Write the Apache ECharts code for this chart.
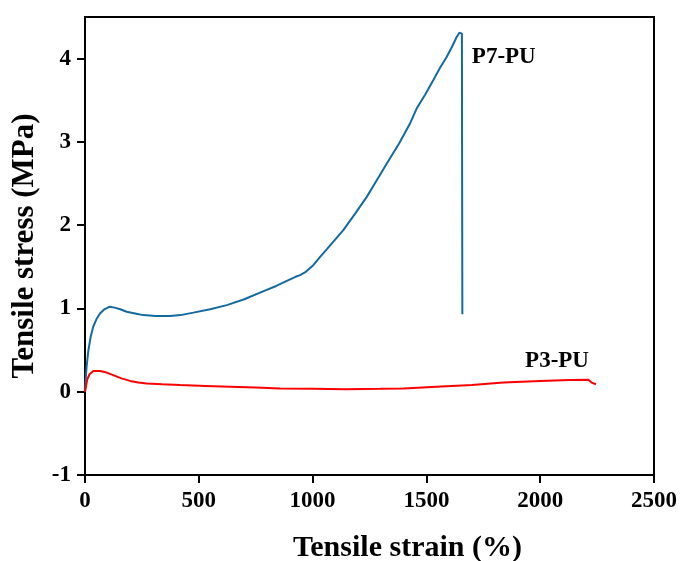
<!DOCTYPE html>
<html>
<head>
<meta charset="utf-8">
<script src="https://cdn.jsdelivr.net/npm/echarts@6/dist/echarts.min.js"></script>
<style>
  html, body { margin: 0; padding: 0; background: #fff; }
  #chart { width: 681px; height: 561px; }
</style>
</head>
<body>
<div id="chart"></div>
<script>
// tensile strain (%) / stress (MPa)
const p7Strain = [0, 3, 7, 15, 25, 36, 50, 66, 85, 107, 130, 155, 183, 220, 256, 310, 374, 420, 476, 550,
  623, 700, 769, 840, 901, 925, 945, 970, 1003, 1033, 1062, 1135, 1190, 1238, 1280, 1326, 1380, 1428,
  1457, 1495, 1530, 1560, 1589, 1612, 1633, 1645, 1652, 1656, 1657, 1658]
const p7Stress = [0, 0.15, 0.3, 0.5, 0.66, 0.78, 0.87, 0.94, 0.99, 1.02, 1.01, 0.99, 0.96, 0.94, 0.92, 0.91, 0.91, 0.92, 0.95, 0.99,
  1.04, 1.11, 1.19, 1.27, 1.35, 1.38, 1.40, 1.44, 1.52, 1.62, 1.71, 1.94, 2.15, 2.34, 2.53, 2.74, 2.98, 3.22,
  3.40, 3.57, 3.74, 3.89, 4.02, 4.14, 4.26, 4.31, 4.33, 4.30, 2.5, 0.93]

const p3Strain = [0, 4, 10, 20, 37, 66, 95, 124, 160, 198, 235, 271, 340, 417, 530, 637, 750, 857, 1000,
  1150, 1296, 1400, 1545, 1700, 1838, 2000, 2131, 2211, 2226, 2245]
const p3Stress = [0, 0.06, 0.15, 0.21, 0.25, 0.25, 0.23, 0.20, 0.16, 0.13, 0.11, 0.10, 0.09, 0.08, 0.07, 0.06, 0.05, 0.04, 0.035,
  0.03, 0.035, 0.04, 0.06, 0.08, 0.11, 0.13, 0.14, 0.145, 0.11, 0.09]

const seriesNames = ['P7-PU', 'P3-PU']
const labelAt = [[1840, 4.02], [2074, 0.37]]

const font = 'Liberation Serif'

const pairs = function (xs, ys) {
  return xs.map((x, i) => [x, ys[i]])
}

const tag = function (name, coord) {
  return {
    symbol: 'circle',
    symbolSize: 0,
    data: [{coord: coord}],
    label: {
      show: true,
      position: 'inside',
      formatter: name,
      color: '#000',
      fontFamily: font,
      fontWeight: 'bold',
      fontSize: 23,
    },
  }
}

const chart = echarts.init(document.getElementById('chart'))

chart.setOption({
  animation: false,
  grid: {
    left: 85, right: 27, top: 17, bottom: 86,
    outerBoundsMode: 'none',
    containLabel: false,
    show: true, borderColor: '#000', borderWidth: 2,
  },
  xAxis: {
    type: 'value',
    min: 0, max: 2500, interval: 500,
    name: 'Tensile strain (%)',
    nameLocation: 'middle',
    nameGap: 58,
    nameTextStyle: {fontFamily: font, fontWeight: 'bold', fontSize: 30, color: '#000', padding: [0, 0, 0, 76]},
    axisLine: {onZero: false, lineStyle: {color: '#000', width: 2}},
    axisTick: {length: 8, lineStyle: {color: '#000', width: 2}},
    axisLabel: {
      fontFamily: font, fontWeight: 'bold', fontSize: 23, color: '#000', margin: 15,
      formatter: v => String(v),
    },
    splitLine: {show: false},
  },
  yAxis: {
    type: 'value',
    min: -1, max: 4.5, interval: 1,
    name: 'Tensile stress (MPa)',
    nameLocation: 'middle',
    nameGap: 42,
    nameTextStyle: {fontFamily: font, fontWeight: 'bold', fontSize: 31, color: '#000'},
    axisLine: {onZero: false, lineStyle: {color: '#000', width: 2}},
    axisTick: {length: 8, lineStyle: {color: '#000', width: 2}},
    axisLabel: {fontFamily: font, fontWeight: 'bold', fontSize: 23, color: '#000', margin: 14, showMaxLabel: false},
    splitLine: {show: false},
  },
  series: [
    {
      name: seriesNames[0],
      type: 'line',
      data: pairs(p7Strain, p7Stress),
      showSymbol: false,
      lineStyle: {color: '#136aa0', width: 2},
      markPoint: tag(seriesNames[0], labelAt[0]),
    },
    {
      name: seriesNames[1],
      type: 'line',
      data: pairs(p3Strain, p3Stress),
      showSymbol: false,
      lineStyle: {color: '#ff0000', width: 2},
      markPoint: tag(seriesNames[1], labelAt[1]),
    },
  ],
})
</script>
</body>
</html>
